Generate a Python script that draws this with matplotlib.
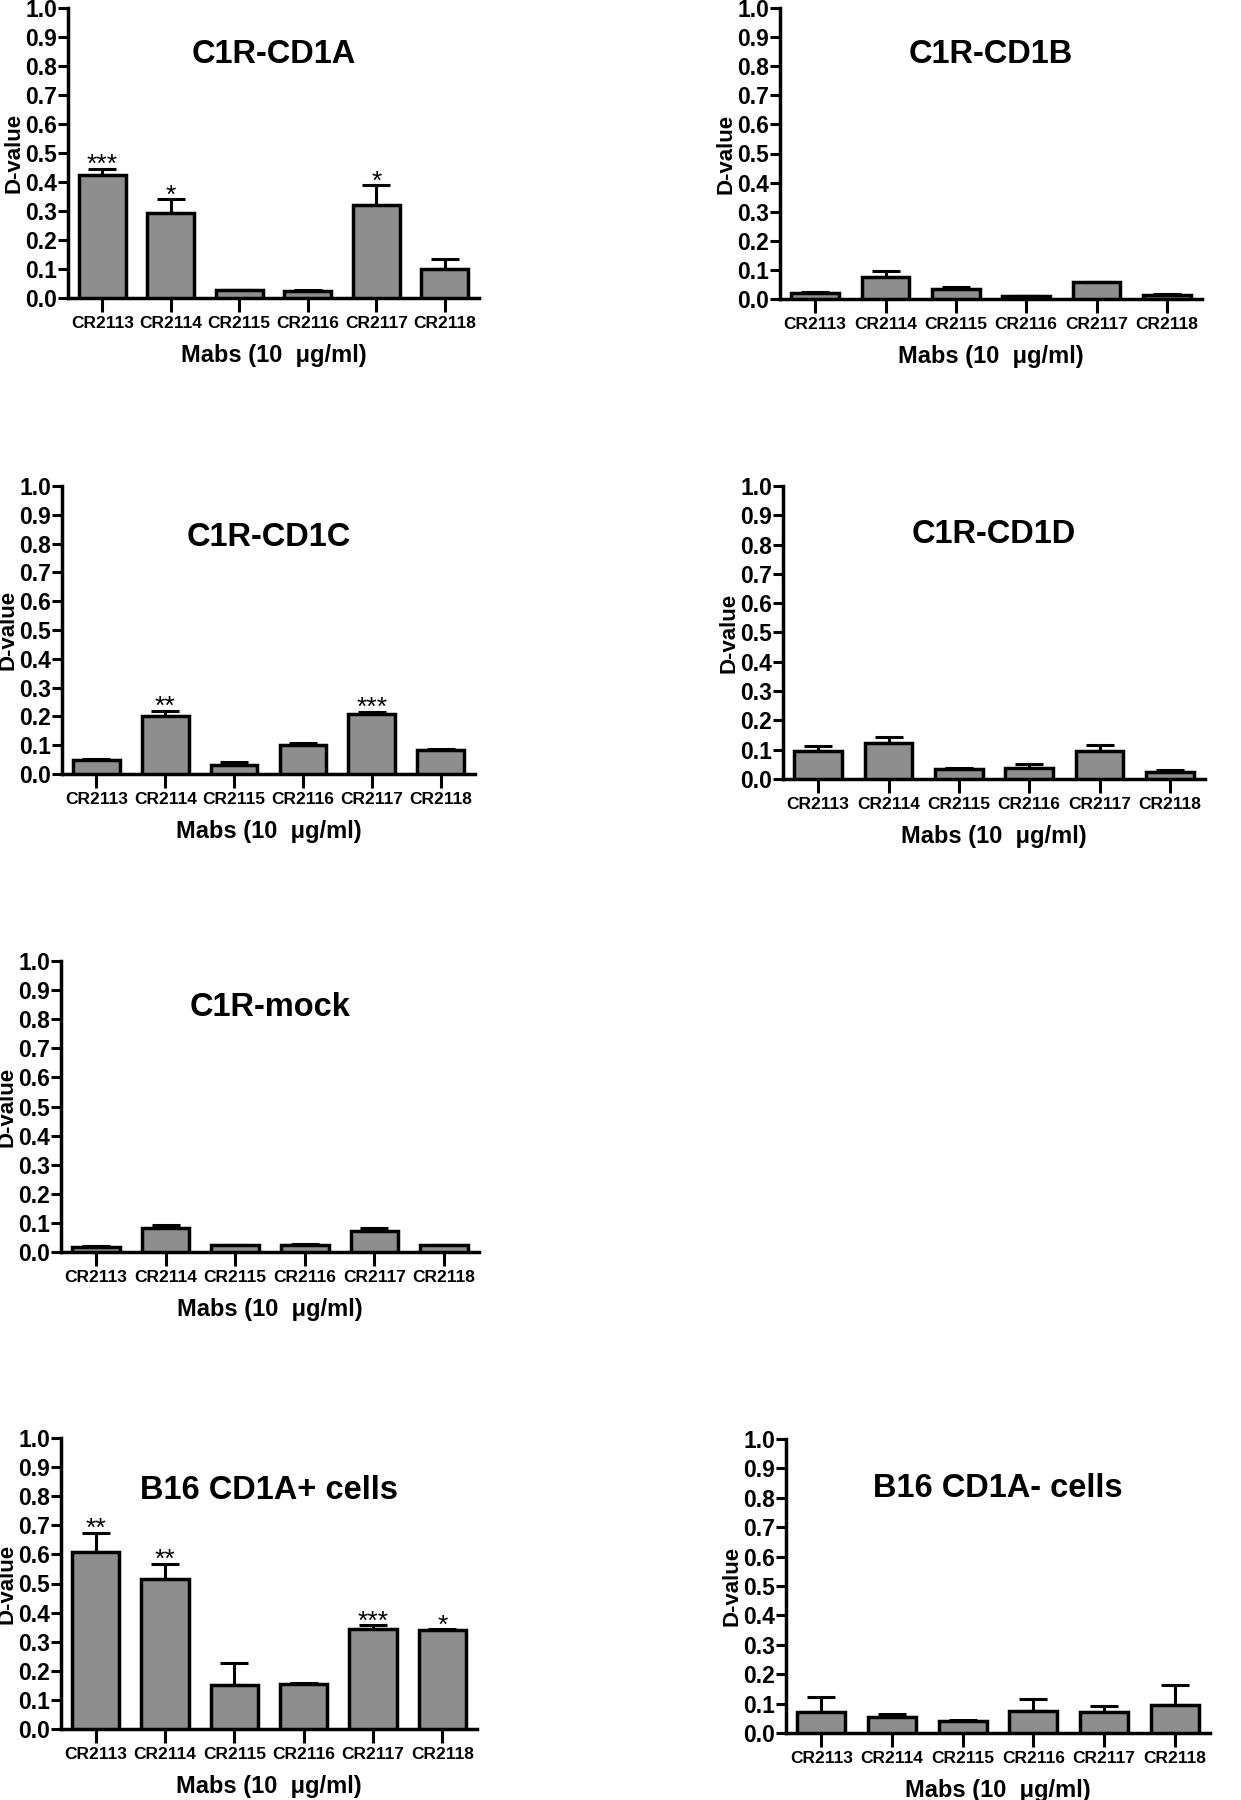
import numpy as np
import matplotlib
matplotlib.use("Agg")
import matplotlib.pyplot as plt

plt.rcParams['font.family'] = ['Liberation Sans', 'DejaVu Sans']

mabs = ['CR2113', 'CR2114', 'CR2115', 'CR2116', 'CR2117', 'CR2118']

# mean D-values and top of the error bar, per panel
cd1a_mean = [0.423, 0.294, 0.026, 0.023, 0.322, 0.101]
cd1a_top = [0.446, 0.340, 0.028, 0.029, 0.390, 0.136]
cd1a_stars = ['***', '*', '', '', '*', '']

cd1b_mean = [0.022, 0.077, 0.033, 0.009, 0.058, 0.013]
cd1b_top = [0.023, 0.096, 0.040, 0.010, 0.059, 0.016]
cd1b_stars = ['', '', '', '', '', '']

cd1c_mean = [0.050, 0.203, 0.032, 0.102, 0.208, 0.083]
cd1c_top = [0.051, 0.220, 0.042, 0.107, 0.217, 0.087]
cd1c_stars = ['', '**', '', '', '***', '']

cd1d_mean = [0.095, 0.122, 0.033, 0.039, 0.097, 0.024]
cd1d_top = [0.114, 0.142, 0.036, 0.051, 0.116, 0.031]
cd1d_stars = ['', '', '', '', '', '']

mock_mean = [0.018, 0.082, 0.023, 0.025, 0.072, 0.023]
mock_top = [0.019, 0.093, 0.024, 0.026, 0.082, 0.024]
mock_stars = ['', '', '', '', '', '']

b16p_mean = [0.608, 0.515, 0.152, 0.156, 0.344, 0.341]
b16p_top = [0.674, 0.568, 0.227, 0.158, 0.356, 0.342]
b16p_stars = ['**', '**', '', '', '***', '*']

b16n_mean = [0.071, 0.053, 0.040, 0.076, 0.070, 0.096]
b16n_top = [0.121, 0.063, 0.043, 0.117, 0.093, 0.162]
b16n_stars = ['', '', '', '', '', '']

W, H = 1241, 1800
fig = plt.figure(figsize=(W / 100, H / 100), dpi=100)


def px_axes(left, right, top, bottom):
    return fig.add_axes([left / W, 1 - bottom / H, (right - left) / W, (bottom - top) / H])


def panel(ax, title, mean, top, stars, ty=0.83):
    x = np.arange(len(mabs))
    mean = np.array(mean)
    err = np.array(top) - mean
    ax.bar(x, mean, width=0.68, color='#8e8e8e', edgecolor='black', linewidth=2.5, zorder=3)
    ax.errorbar(x, mean, yerr=[np.zeros_like(err), err], fmt='none', ecolor='black',
                elinewidth=2.2, capsize=10, capthick=2.2, zorder=2)
    for i, s in enumerate(stars):
        if s:
            ax.annotate(s, xy=(i, top[i]), xytext=(0, -2.5), textcoords='offset points',
                        ha='center', va='baseline', fontsize=19)
    ax.set_xlim(-0.5, 5.5)
    ax.set_ylim(0, 1.0)
    ax.set_yticks(np.arange(0, 1.01, 0.1))
    ax.set_yticklabels(['%.1f' % v for v in np.arange(0, 1.01, 0.1)],
                       fontsize=16.5, fontweight='bold')
    ax.set_xticks(x)
    ax.set_xticklabels(mabs, fontsize=12.5, fontweight='bold')
    ax.tick_params(axis='y', direction='out', length=7, width=2.2, pad=1)
    ax.tick_params(axis='x', direction='out', length=10, width=2.2, pad=3)
    for sp in ['top', 'right']:
        ax.spines[sp].set_visible(False)
    for sp in ['left', 'bottom']:
        ax.spines[sp].set_linewidth(2.5)
    ax.set_ylabel('D-value', fontsize=16, fontweight='bold', labelpad=0)
    ax.set_xlabel('Mabs (10  μg/ml)', fontsize=17, fontweight='bold', labelpad=9)
    ax.text(0.5, ty, title, transform=ax.transAxes, ha='center', va='center',
            fontsize=23.5, fontweight='bold')


panel(px_axes(68, 479, 8, 298), 'C1R-CD1A', cd1a_mean, cd1a_top, cd1a_stars, 0.84)
panel(px_axes(780, 1202, 8, 299), 'C1R-CD1B', cd1b_mean, cd1b_top, cd1b_stars, 0.84)
panel(px_axes(62, 475, 486, 774), 'C1R-CD1C', cd1c_mean, cd1c_top, cd1c_stars, 0.82)
panel(px_axes(783, 1205, 486, 779), 'C1R-CD1D', cd1d_mean, cd1d_top, cd1d_stars, 0.836)
panel(px_axes(61, 479, 961, 1252), 'C1R-mock', mock_mean, mock_top, mock_stars, 0.84)
panel(px_axes(61, 477, 1438, 1729), 'B16 CD1A+ cells', b16p_mean, b16p_top, b16p_stars, 0.82)
panel(px_axes(786, 1210, 1439, 1733), 'B16 CD1A- cells', b16n_mean, b16n_top, b16n_stars, 0.83)

fig.savefig('out.png', dpi=100)
